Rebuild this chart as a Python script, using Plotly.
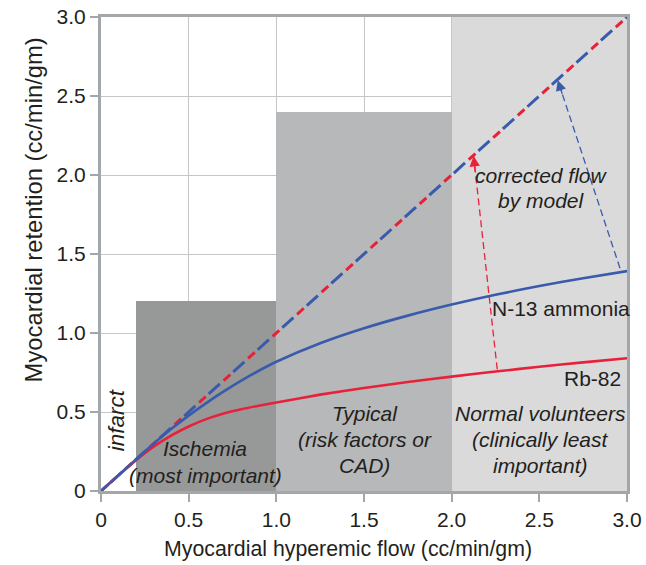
import plotly.graph_objects as go

# ---------------- data ----------------
flow = [0, 0.1, 0.2, 0.3, 0.4, 0.5, 0.6, 0.7, 0.8, 0.9, 1.0, 1.25, 1.5, 1.75, 2.0, 2.25, 2.5, 2.75, 3.0]
n13_ammonia = [0, 0.1, 0.2, 0.299, 0.392, 0.477, 0.556, 0.63, 0.699, 0.761, 0.818, 0.935, 1.03, 1.11, 1.18, 1.242, 1.297, 1.347, 1.392]
rb82 = [0, 0.1, 0.195, 0.28, 0.35, 0.408, 0.455, 0.491, 0.518, 0.54, 0.56, 0.61, 0.652, 0.69, 0.724, 0.756, 0.786, 0.814, 0.84]

identity_x = [0, 3.0]
identity_y = [0, 3.0]

region_left = [0.2, 1.0, 2.0]
region_right = [1.0, 2.0, 3.0]
region_height = [1.2, 2.4, 3.0]
region_colors = ["#979999", "#b6b8b9", "#dadada"]

red_arrow_x = [2.26, 2.125]
red_arrow_y = [0.77, 2.12]
blue_arrow_x = [2.96, 2.605]
blue_arrow_y = [1.41, 2.60]

x_ticks = [0, 0.5, 1.0, 1.5, 2.0, 2.5, 3.0]
x_ticklabels = ["0", "0.5", "1.0", "1.5", "2.0", "2.5", "3.0"]
y_ticks = [0, 0.5, 1.0, 1.5, 2.0, 2.5, 3.0]
y_ticklabels = ["0", "0.5", "1.0", "1.5", "2.0", "2.5", "3.0"]

RED = "#e8213a"
BLUE = "#3a5bab"
TXT = "#231f20"
FONT = "Liberation Sans, Arial, sans-serif"

fig = go.Figure()

# shaded regions as bars
fig.add_trace(go.Bar(
    x=[(l + r) / 2 for l, r in zip(region_left, region_right)],
    y=region_height,
    width=[r - l for l, r in zip(region_left, region_right)],
    marker=dict(color=region_colors, line=dict(width=0)),
    hoverinfo="skip", showlegend=False,
))

# identity line: alternating red / blue dashes
fig.add_trace(go.Scatter(x=identity_x, y=identity_y, mode="lines",
                         line=dict(color=RED, width=3, dash="9px,24px"),
                         hoverinfo="skip", showlegend=False))
fig.add_trace(go.Scatter(x=identity_x, y=identity_y, mode="lines",
                         line=dict(color=BLUE, width=3, dash="0px,13px,15px,5px"),
                         hoverinfo="skip", showlegend=False))

# arrows (dashed shafts)
fig.add_trace(go.Scatter(x=red_arrow_x, y=red_arrow_y, mode="lines",
                         line=dict(color=RED, width=1.3, dash="7px,4px"),
                         hoverinfo="skip", showlegend=False))
fig.add_trace(go.Scatter(x=blue_arrow_x, y=blue_arrow_y, mode="lines",
                         line=dict(color=BLUE, width=1.3, dash="7px,4px"),
                         hoverinfo="skip", showlegend=False))

# curves
fig.add_trace(go.Scatter(x=flow, y=rb82, mode="lines",
                         line=dict(color=RED, width=2.6, shape="spline", smoothing=0.6),
                         hoverinfo="skip", showlegend=False))
fig.add_trace(go.Scatter(x=flow, y=n13_ammonia, mode="lines",
                         line=dict(color=BLUE, width=2.6, shape="spline", smoothing=0.6),
                         hoverinfo="skip", showlegend=False))

annotations = []

# arrowheads
for xs, ys, col in [(red_arrow_x, red_arrow_y, RED), (blue_arrow_x, blue_arrow_y, BLUE)]:
    fx = xs[1] + (xs[0] - xs[1]) * 0.08
    fy = ys[1] + (ys[0] - ys[1]) * 0.08
    annotations.append(dict(x=xs[1], y=ys[1], ax=fx, ay=fy, xref="x", yref="y", axref="x", ayref="y",
                            text="", showarrow=True, arrowhead=2, arrowsize=1.6, arrowwidth=1.3,
                            arrowcolor=col, standoff=0, startstandoff=0))

def txt(x, y, s, size=21, italic=True, angle=0):
    annotations.append(dict(x=x, y=y, xref="x", yref="y", text=("<i>%s</i>" % s) if italic else s,
                            showarrow=False, textangle=angle, xanchor="center", yanchor="middle",
                            font=dict(family=FONT, size=size, color=TXT)))

txt(0.093, 0.45, "infarct", size=22.5, angle=-90)
txt(0.595, 0.27, "Ischemia")
txt(0.595, 0.10, "(most important)")
txt(1.505, 0.49, "Typical")
txt(1.505, 0.325, "(risk factors or")
txt(1.505, 0.16, "CAD)")
txt(2.505, 0.49, "Normal volunteers")
txt(2.505, 0.325, "(clinically least")
txt(2.505, 0.16, "important)")
txt(2.51, 2.0, "corrected flow")
txt(2.51, 1.84, "by model")
txt(2.625, 1.155, "N-13 ammonia", size=21, italic=False)
txt(2.805, 0.715, "Rb-82", size=21, italic=False)

# axis titles
annotations.append(dict(x=0.47, y=0, xref="paper", yref="paper", yshift=-58, xanchor="center", yanchor="middle",
                        text="Myocardial hyperemic flow (cc/min/gm)", showarrow=False,
                        font=dict(family=FONT, size=21.3, color=TXT)))
annotations.append(dict(x=0, y=0.592, xref="paper", yref="paper", xshift=-68, xanchor="center", yanchor="middle",
                        text="Myocardial retention (cc/min/gm)", showarrow=False, textangle=-90,
                        font=dict(family=FONT, size=23.8, color=TXT)))

axis_common = dict(showgrid=True, gridcolor="#c6c6c6", gridwidth=1, zeroline=False,
                   showline=True, linecolor="#a3a7aa", linewidth=3, mirror=True,
                   ticks="outside", ticklen=8, tickwidth=1.5, tickcolor="#a3a7aa",
                   automargin=False,
                   tickfont=dict(family=FONT, size=21, color=TXT))

fig.update_layout(
    width=646, height=565,
    margin=dict(l=101, r=19, t=17, b=74, autoexpand=False),
    paper_bgcolor="white", plot_bgcolor="white",
    xaxis=dict(range=[0, 3.0], tickvals=x_ticks, ticktext=x_ticklabels, **axis_common),
    yaxis=dict(range=[0, 3.0], tickvals=y_ticks, ticktext=y_ticklabels, **axis_common),
    annotations=annotations,
    showlegend=False,
    bargap=0,
)

fig.write_html("out.html")
